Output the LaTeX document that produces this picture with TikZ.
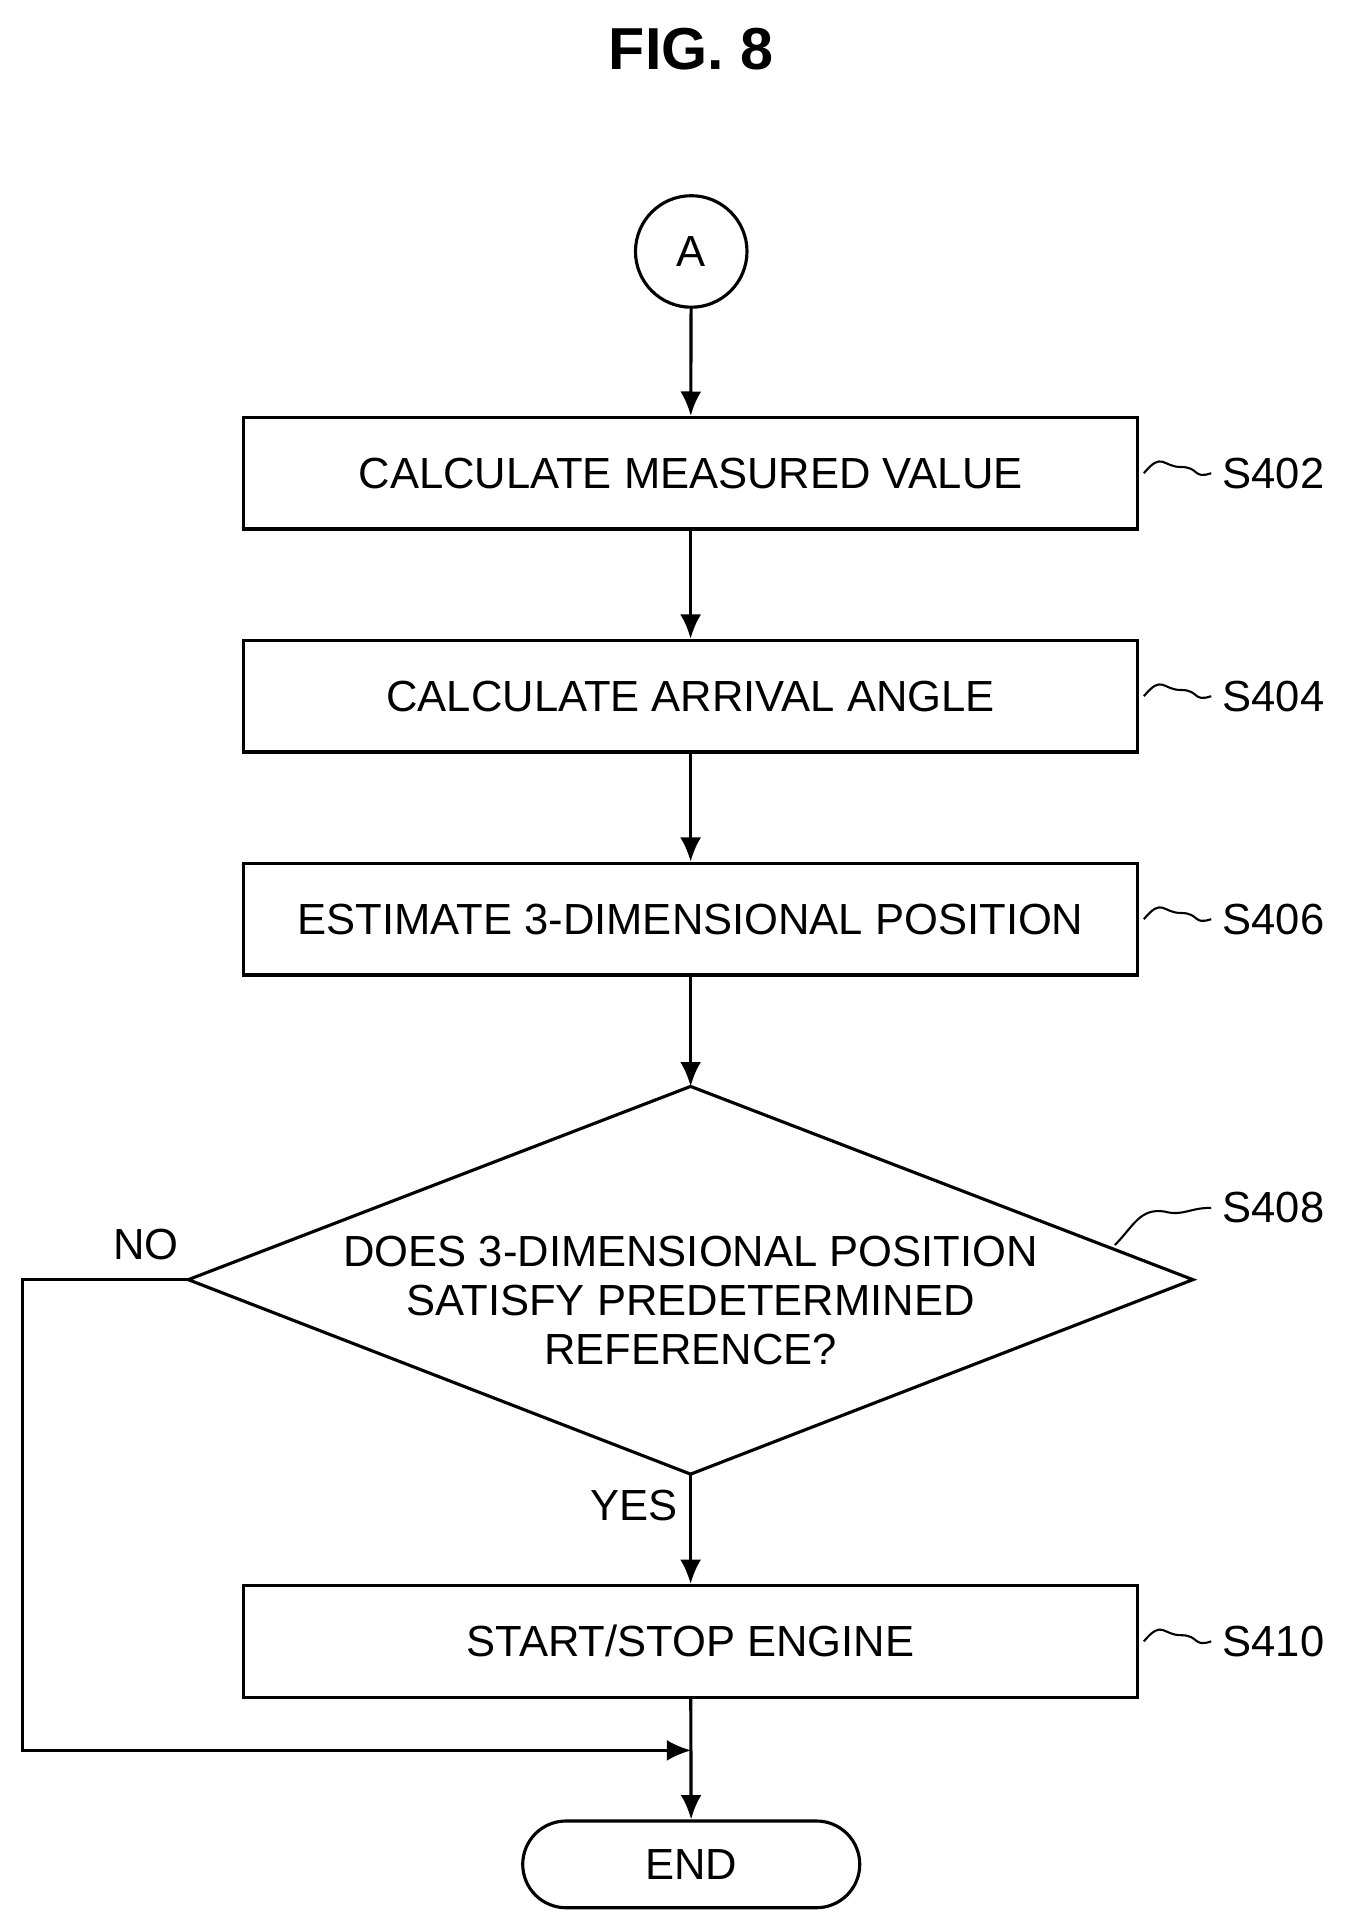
\documentclass[tikz,border=0pt]{standalone}
\usepackage{fontspec}
\setmainfont{Liberation Sans}
\usetikzlibrary{shapes.geometric,shapes.misc,arrows.meta}
\begin{document}
\begin{tikzpicture}[x=0.025cm,y=-0.025cm,
  box/.style={draw,line width=1.8pt,minimum width=18.025cm,minimum height=2.25cm,inner sep=0pt,font=\fontsize{25}{30}\selectfont},
  lab/.style={font=\fontsize{25}{30}\selectfont},
  arr/.style={line width=1.8pt,-{Latex[length=14pt,width=12pt]}},
  ln/.style={line width=1.8pt}]
\useasboundingbox (0,0) rectangle (1085,1558);
\node[font=\bfseries\fontsize{34}{40}\selectfont] (title) at (558,40) {FIG. 8};
\node[draw,circle,line width=1.8pt,minimum size=2.25cm,inner sep=0pt,lab] (A) at (558,203) {A};
\node[box] (s402) at (557.5,382) {CALCULATE MEASURED VALUE};
\node[box] (s404) at (557.5,562) {CALCULATE ARRIVAL ANGLE};
\node[box] (s406) at (557.5,742) {ESTIMATE 3-DIMENSIONAL POSITION};
\coordinate (dn) at (557.5,877);
\coordinate (dw) at (152,1033);
\coordinate (de) at (963,1033);
\coordinate (ds) at (557.5,1190);
\draw[ln] (dn) -- (de) -- (ds) -- (dw) -- cycle;
\node[lab,align=center] (dt) at (557.5,1068) [yshift=0.45cm] {DOES 3-DIMENSIONAL POSITION\\[-2pt]SATISFY PREDETERMINED\\[-2pt]REFERENCE?};
\node[box] (s410) at (557.5,1325) {START/STOP ENGINE};
\node[draw,rounded rectangle,line width=1.8pt,minimum width=6.8cm,minimum height=1.75cm,inner sep=0pt,lab] (end) at (558,1505) {END};
\node[lab] (l402) at (1028,382) {S402};
\node[lab] (l404) at (1028,562) {S404};
\node[lab] (l406) at (1028,742) {S406};
\node[lab] (l408) at (1028,975) {S408};
\node[lab] (l410) at (1028,1325) {S410};
\node[lab] (no) at (118,1005) {NO};
\node[lab] (yes) at (512,1215) {YES};
\foreach \n in {402,404,406,410}{
  \draw[line width=1.2pt] (s\n.east) ++(4,0) .. controls +(15,-18) and +(-15,0) .. +(30,-5) .. controls +(15,0) and +(-15,5) .. ([xshift=-3pt]l\n.west);
}
\draw[line width=1.2pt] (900,1005) .. controls (915,990) and (920,975) .. (940,978) .. controls (955,982) and (960,975) .. ([xshift=-3pt]l408.west);
\draw[arr] (A) -- (s402);
\draw[arr] (s402) -- (s404);
\draw[arr] (s404) -- (s406);
\draw[arr] (s406) -- (dn);
\draw[arr] (ds) -- (s410);
\draw[arr] (s410) -- (end);
\coordinate (c1) at (18,1033);
\coordinate (c2) at (18,1413);
\coordinate (c3) at (558,1413);
\draw[arr] (dw) -- (c1) -- (c2) -- (c3);
\end{tikzpicture}
\end{document}
